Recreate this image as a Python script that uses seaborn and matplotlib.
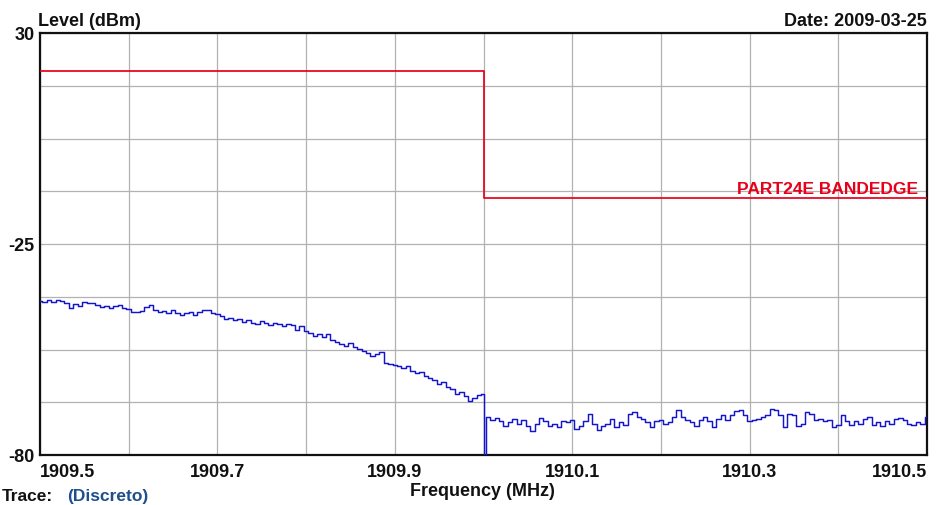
import numpy as np
import pandas as pd
import matplotlib
matplotlib.use("Agg")
import matplotlib.pyplot as plt
import seaborn as sns

# ---------------- data ----------------
# sweep below the band edge (1909.500 .. 1910.000 MHz, 0.005 MHz step)
left_start, left_step = 1909.500, 0.005
left_level = [
    -39.8, -40.0, -39.6, -40.1, -39.5, -39.9, -40.4, -41.6, -40.6, -41.2,
    -40.1, -40.5, -40.3, -41.0, -41.3, -41.1, -41.6, -41.2, -40.9, -41.7,
    -42.0, -42.6, -42.8, -42.5, -41.3, -41.0, -42.2, -42.7, -42.4, -43.0,
    -42.3, -42.9, -43.6, -43.1, -42.8, -43.4, -42.6, -42.3, -42.1, -43.0,
    -43.2, -43.8, -44.6, -44.2, -44.9, -44.5, -45.3, -44.8, -45.6, -45.9,
    -45.2, -45.7, -46.0, -45.5, -45.8, -46.3, -45.9, -46.2, -47.3, -46.4,
    -47.6, -48.2, -48.9, -48.5, -49.3, -48.4, -50.0, -50.6, -51.0, -51.6,
    -50.9, -51.8, -52.3, -53.0, -53.4, -54.3, -53.6, -53.1, -55.9, -56.4,
    -56.6, -56.9, -57.4, -56.8, -58.2, -58.7, -58.4, -59.4, -59.8, -60.5,
    -61.6, -60.9, -62.3, -62.8, -64.1, -63.7, -64.6, -65.9, -65.2, -64.4,
    -64.0,
]
# sweep above the band edge (1910.000 .. 1910.500 MHz, 0.005 MHz step)
right_start, right_step = 1910.000, 0.005
right_level = [
    -80.0, -70.2, -70.9, -70.4, -71.2, -72.4, -71.5, -70.6, -71.8, -70.9,
    -72.4, -73.8, -72.0, -70.4, -71.1, -72.4, -71.8, -72.6, -71.2, -71.5,
    -70.9, -73.2, -72.4, -71.1, -69.3, -72.0, -73.5, -72.4, -71.8, -70.6,
    -72.8, -71.5, -72.1, -69.2, -68.9, -70.0, -70.6, -71.5, -72.8, -71.2,
    -70.9, -71.8, -71.5, -70.2, -68.4, -70.2, -70.9, -71.5, -72.4, -70.9,
    -70.2, -71.1, -72.6, -70.6, -69.7, -70.9, -69.5, -68.6, -68.3, -69.7,
    -71.2, -70.9, -70.6, -70.2, -69.5, -68.0, -68.3, -69.5, -72.8, -69.2,
    -69.5, -72.4, -71.8, -68.9, -69.3, -70.9, -70.6, -71.2, -70.9, -72.8,
    -72.1, -69.7, -71.1, -72.1, -71.2, -71.8, -70.6, -70.2, -72.1, -71.5,
    -72.4, -71.2, -71.8, -70.6, -70.4, -70.9, -71.8, -72.1, -71.5, -72.0,
    -70.2,
]

# limit line (PART24E band edge)
limit_freq = [1909.5, 1910.0, 1910.0, 1910.5]
limit_level = [20.0, 20.0, -13.0, -13.0]
limit_label = "PART24E BANDEDGE"

# axes
x_min, x_max = 1909.5, 1910.5
y_min, y_max = -80.0, 30.0
x_grid = [1909.5, 1909.6, 1909.7, 1909.8, 1909.9, 1910.0, 1910.1, 1910.2, 1910.3, 1910.4, 1910.5]
x_ticklabels = ["1909.5", "", "1909.7", "", "1909.9", "", "1910.1", "", "1910.3", "", "1910.5"]
y_grid = [30.0, 16.25, 2.5, -11.25, -25.0, -38.75, -52.5, -66.25, -80.0]
y_ticklabels = ["30", "", "", "", "-25", "", "", "", "-80"]

# ---------------- build frame ----------------
left_freq = np.round(left_start + left_step * np.arange(len(left_level)), 4)
right_freq = np.round(right_start + right_step * np.arange(len(right_level)), 4)
trace = pd.DataFrame({
    "freq": np.concatenate([left_freq, right_freq]),
    "level": np.concatenate([left_level, right_level]),
})
limit = pd.DataFrame({"freq": limit_freq, "level": limit_level})

# ---------------- style ----------------
sns.set_style("white")
plt.rcParams["font.family"] = ["Liberation Sans", "DejaVu Sans"]
plt.rcParams["font.weight"] = "bold"

W, H = 944, 506
fig = plt.figure(figsize=(W / 100, H / 100), dpi=100)
ax = fig.add_axes([40 / W, 1 - 456 / H, 887 / W, 422 / H])

sns.lineplot(data=trace, x="freq", y="level", ax=ax, color="#1414c8",
             linewidth=1.05, estimator=None, sort=False, zorder=3,
             drawstyle="steps-mid")
sns.lineplot(data=limit, x="freq", y="level", ax=ax, color="#e8001a",
             linewidth=1.25, estimator=None, sort=False, zorder=4)

ax.set_xlim(x_min, x_max)
ax.set_ylim(y_min, y_max)
ax.set_xticks(x_grid, labels=x_ticklabels)
ax.set_yticks(y_grid, labels=y_ticklabels)
ax.tick_params(axis="both", length=0, labelsize=13, colors="#111111")
ax.tick_params(axis="x", pad=6)
ax.tick_params(axis="y", pad=4)
for lab in ax.get_xticklabels() + ax.get_yticklabels():
    lab.set_fontweight("bold")
xl = ax.get_xticklabels()
xl[0].set_ha("left")
xl[-1].set_ha("right")

ax.grid(True, color="#b2b2b2", linewidth=0.9)
ax.set_axisbelow(True)
for s in ax.spines.values():
    s.set_visible(True)
    s.set_color("#111111")
    s.set_linewidth(1.6)
ax.set_xlabel("")
ax.set_ylabel("")

ax.text(1910.4898, -11.6, limit_label, color="#e8001a", fontsize=12.5,
        fontweight="bold", ha="right", va="baseline", zorder=5)

fig.text(38 / W, 1 - 26 / H, "Level (dBm)", fontsize=13, fontweight="bold",
         ha="left", va="baseline", color="#111111")
fig.text(927 / W, 1 - 26 / H, "Date: 2009-03-25", fontsize=13, fontweight="bold",
         ha="right", va="baseline", color="#111111")
fig.text(482 / W, 1 - 492 / H, "Frequency (MHz)", fontsize=13, fontweight="bold",
         ha="center", va="center", color="#111111")
fig.text(2 / W, 1 - 504 / H, "Trace:", fontsize=12.5, fontweight="bold",
         ha="left", va="bottom", color="#111111")
fig.text(67 / W, 1 - 504 / H, "(Discreto)", fontsize=12.5, fontweight="bold",
         ha="left", va="bottom", color="#1f4e8c")

fig.savefig("out.png", dpi=100)
